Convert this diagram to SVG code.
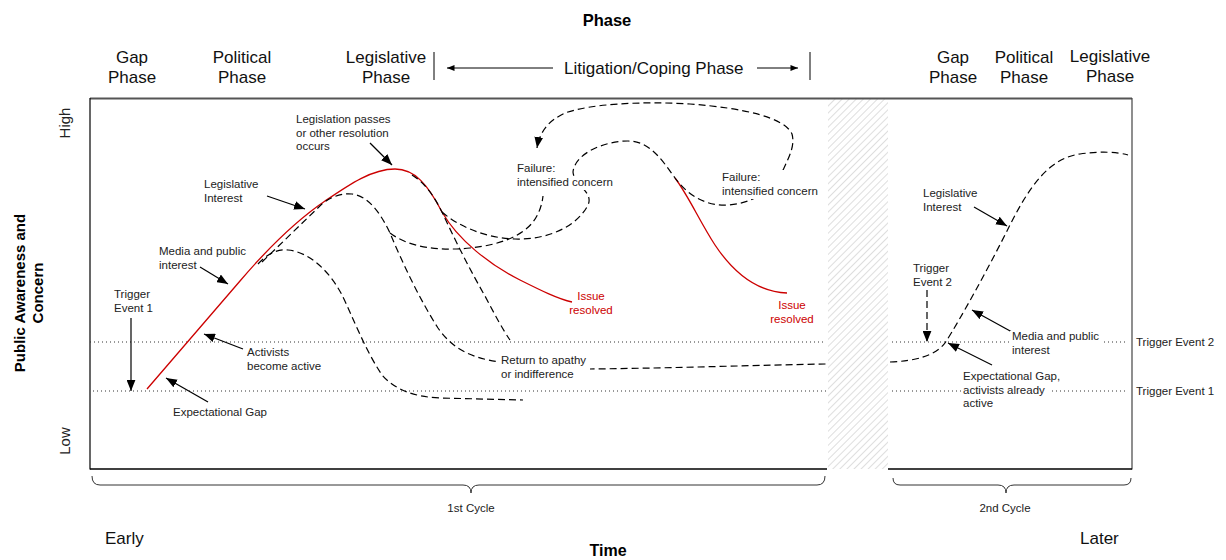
<svg xmlns="http://www.w3.org/2000/svg" width="1226" height="560" viewBox="0 0 1226 560">
<style>
text { font-family: "Liberation Sans", Arial, sans-serif; fill: #222; }
.lbl { font-size: 11.5px; }
.red { fill: #cc0000; }
.mid { text-anchor: middle; }
.ph { font-size: 17px; text-anchor: middle; fill: #111; }
.big { font-size: 17px; fill: #111; }
.bold { font-weight: bold; fill: #000; }
.dash { fill: none; stroke: #000; stroke-width: 1.2; stroke-dasharray: 7 4; }
.redc { fill: none; stroke: #cc0000; stroke-width: 1.3; }
.dot { stroke: #333; stroke-width: 1; stroke-dasharray: 1 3; }
.arr { stroke: #000; stroke-width: 1.2; fill: none; marker-end: url(#ah); }
.sarr { stroke: #000; stroke-width: 1; fill: none; marker-end: url(#sah); }
.bg { fill: #fff; }
.brace { fill: none; stroke: #333; stroke-width: 1; }
</style>
<defs>
<marker id="ah" viewBox="0 0 10 8" refX="10" refY="4" markerWidth="11" markerHeight="9" orient="auto" markerUnits="userSpaceOnUse"><path d="M0,0 L10,4 L0,8 z" fill="#000"/></marker>
<marker id="sah" viewBox="0 0 10 8" refX="10" refY="4" markerWidth="8" markerHeight="6" orient="auto" markerUnits="userSpaceOnUse"><path d="M0,0 L10,4 L0,8 z" fill="#000"/></marker>
<pattern id="hatch" width="5" height="5" patternUnits="userSpaceOnUse" patternTransform="rotate(45)"><line x1="0" y1="0" x2="0" y2="5" stroke="#c8c8c8" stroke-width="1.2"/></pattern>
</defs>

<g id="frame">
<rect x="828" y="99" width="60" height="370" fill="url(#hatch)"/>
<line x1="90" y1="98.5" x2="1132" y2="98.5" stroke="#555" stroke-width="2"/>
<line x1="90" y1="98" x2="90" y2="469.5" stroke="#000" stroke-width="1.2"/>
<line x1="1132" y1="98" x2="1132" y2="469.5" stroke="#444" stroke-width="1.2"/>
<line x1="90" y1="469" x2="827" y2="469" stroke="#000" stroke-width="1.5"/>
<line x1="888" y1="469" x2="1132" y2="469" stroke="#000" stroke-width="1.5"/>
<line class="dot" x1="90" y1="342" x2="826" y2="342"/>
<line class="dot" x1="93" y1="391" x2="826" y2="391"/>
<line class="dot" x1="892" y1="342" x2="1128" y2="342"/>
<line class="dot" x1="892" y1="391" x2="1128" y2="391"/>
</g>

<g id="header">
<text x="607" y="26" class="bold mid" font-size="16.5">Phase</text>
<text class="ph" x="132" y="63">Gap</text><text class="ph" x="132" y="83">Phase</text>
<text class="ph" x="242" y="63">Political</text><text class="ph" x="242" y="83">Phase</text>
<text class="ph" x="386" y="63">Legislative</text><text class="ph" x="386" y="83">Phase</text>
<line x1="434" y1="52" x2="434" y2="80" stroke="#000" stroke-width="1"/>
<line x1="810" y1="52" x2="810" y2="80" stroke="#000" stroke-width="1"/>
<line class="sarr" x1="553" y1="68" x2="447" y2="68"/>
<text class="big" x="564" y="74">Litigation/Coping Phase</text>
<line class="sarr" x1="757" y1="68" x2="798" y2="68"/>
<text class="ph" x="953" y="63">Gap</text><text class="ph" x="953" y="83">Phase</text>
<text class="ph" x="1024" y="63">Political</text><text class="ph" x="1024" y="83">Phase</text>
<text class="ph" x="1110" y="62">Legislative</text><text class="ph" x="1110" y="82">Phase</text>
</g>

<g id="axes">
<text class="bold mid" font-size="15" transform="translate(25,293) rotate(-90)">Public Awareness and</text>
<text class="bold mid" font-size="15" transform="translate(43,293) rotate(-90)">Concern</text>
<text class="mid" font-size="15" transform="translate(70,123) rotate(-90)">High</text>
<text class="mid" font-size="15" transform="translate(70,441) rotate(-90)">Low</text>
<text class="big" x="105" y="544">Early</text>
<text class="big" x="1080" y="544">Later</text>
<text x="608" y="556" class="bold mid" font-size="16">Time</text>
</g>

<g id="curves">
<path class="redc" d="M147,389 L240,281 C275,240 300,218 325,201 C350,184 372,169 395,169 C415,169 428,185 442,212 C458,240 490,265 520,280 C540,290 558,299 572,302"/>
<path class="redc" d="M675,178 C688,195 700,222 715,245 C735,275 760,292 787,293"/>
<path id="curveA" class="dash" d="M258,264 C268,253 278,249 288,250 C310,252 330,272 342,295 C352,315 365,350 382,375 C395,390 415,397 440,398 L523,400"/>
<path id="curveB" class="dash" d="M262,262 L323,203 C333,196 342,193 352,194 C368,196 380,212 390,233 C402,262 420,300 438,328 C452,348 470,358 500,362 C530,365 560,369 590,369 C680,368 760,365 827,364"/>
<path id="curveX" class="dash" d="M390,233 C410,248 440,251 470,248 C500,245 522,236 533,222 C539,214 542,205 543,196"/>
<path id="curveS" class="dash" d="M412,175 C425,183 434,196 442,212 C455,240 470,270 485,296 C495,315 503,330 510,340"/>
<path id="curveY" class="dash" marker-end="url(#ah)" d="M442,212 C458,226 485,238 515,239 C550,240 578,225 588,205 C594,192 574,185 573,172 C575,153 605,141 628,141 C650,141 662,160 675,178 C690,198 708,206 728,205 C758,203 776,185 784,168 C790,155 795,145 792,134 C785,118 745,108 690,104 C640,101 590,104 565,113 C550,120 540,130 537,148"/>
<path id="curve2" class="dash" d="M890,362 C915,361 935,356 945,343 C960,320 990,265 1010,225 C1030,185 1050,158 1080,154 C1100,151 1118,152 1128,155"/>
</g>

<g id="connectors">
<line class="arr" x1="370" y1="143" x2="392" y2="165"/>
<line class="arr" x1="267" y1="196" x2="305" y2="209"/>
<line class="arr" x1="200" y1="267" x2="228" y2="284"/>
<line class="arr" x1="131" y1="318" x2="131" y2="391"/>
<line class="arr" x1="243" y1="349" x2="204" y2="334"/>
<line class="arr" x1="208" y1="402" x2="166" y2="378"/>
<line class="arr" x1="974" y1="207" x2="1007" y2="226"/>
<line class="arr" x1="927" y1="290" x2="927" y2="342" stroke-dasharray="7 4"/>
<line class="arr" x1="1012" y1="332" x2="972" y2="310"/>
<line class="arr" x1="992" y1="365" x2="948" y2="343"/>
</g>

<g id="label-legislation-passes"><text class="lbl" x="296" y="123">Legislation passes</text><text class="lbl" x="296" y="136.5">or other resolution</text><text class="lbl" x="296" y="150">occurs</text></g>
<g id="label-legislative-interest-1"><text class="lbl" x="204" y="188">Legislative</text><text class="lbl" x="204" y="201.5">Interest</text></g>
<g id="label-media-1"><text class="lbl" x="159" y="255">Media and public</text><text class="lbl" x="159" y="268.5">interest</text></g>
<g id="label-trigger-1"><text class="lbl" x="114" y="298">Trigger</text><text class="lbl" x="114" y="312">Event 1</text></g>
<g id="label-activists"><text class="lbl" x="247" y="356">Activists</text><text class="lbl" x="247" y="370">become active</text></g>
<g id="label-gap-1"><text class="lbl" x="173" y="416">Expectational Gap</text></g>
<g id="label-failure-1"><rect class="bg" x="516" y="162" width="40" height="13"/><rect class="bg" x="516" y="176" width="99" height="14"/><text class="lbl" x="517" y="172">Failure:</text><text class="lbl" x="517" y="186">intensified concern</text></g>
<g id="label-failure-2"><rect class="bg" x="720" y="170" width="100" height="29"/><text class="lbl" x="722" y="181">Failure:</text><text class="lbl" x="722" y="194.5">intensified concern</text></g>
<g id="label-return"><rect class="bg" x="499" y="353" width="91" height="28"/><text class="lbl" x="501" y="364">Return to apathy</text><text class="lbl" x="501" y="377.5">or indifference</text></g>
<g id="label-resolved-1"><text class="lbl red mid" x="591" y="300">Issue</text><text class="lbl red mid" x="591" y="314">resolved</text></g>
<g id="label-resolved-2"><text class="lbl red mid" x="792" y="309">Issue</text><text class="lbl red mid" x="792" y="323">resolved</text></g>
<g id="label-legislative-interest-2"><text class="lbl" x="923" y="197">Legislative</text><text class="lbl" x="923" y="211">Interest</text></g>
<g id="label-trigger-2"><text class="lbl" x="913" y="272">Trigger</text><text class="lbl" x="913" y="285.5">Event 2</text></g>
<g id="label-media-2"><rect class="bg" x="1010" y="331" width="92" height="27"/><text class="lbl" x="1012" y="340">Media and public</text><text class="lbl" x="1012" y="354">interest</text></g>
<g id="label-gap-2"><rect class="bg" x="961" y="384" width="89" height="12"/><text class="lbl" x="963" y="380">Expectational Gap,</text><text class="lbl" x="963" y="393.5">activists already</text><text class="lbl" x="963" y="407">active</text></g>
<g id="label-trigger-lines"><text class="lbl" x="1136" y="346">Trigger Event 2</text><text class="lbl" x="1136" y="395">Trigger Event 1</text></g>

<g id="cycles">
<path class="brace" d="M92,476 Q92,485 100,485 L463,485 Q471,485 471,493 Q471,485 479,485 L817,485 Q825,485 825,476"/>
<path class="brace" d="M893,478 Q893,485 900,485 L998,485 Q1006,485 1006,493 Q1006,485 1014,485 L1124,485 Q1131,485 1131,478"/>
<text class="lbl mid" x="471" y="512" font-size="12">1st Cycle</text>
<text class="lbl mid" x="1005" y="512" font-size="12">2nd Cycle</text>
</g>
</svg>
